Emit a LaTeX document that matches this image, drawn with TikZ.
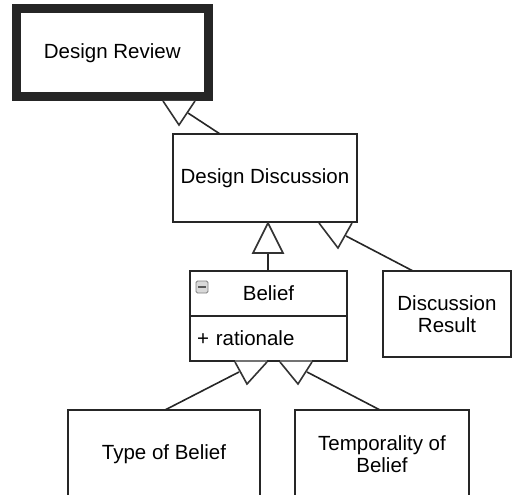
\documentclass[tikz,border=0pt]{standalone}
\usepackage{fontspec}
\setmainfont{Liberation Sans}
\begin{document}
\begin{tikzpicture}[x=1pt,y=-1pt,
  box/.style={draw=black!85,line width=1.6pt,fill=white,inner sep=0pt,font=\fontsize{20.5}{22}\selectfont,align=center,text=black},
  gen/.style={draw=black!80,line width=1.6pt,fill=white,line join=miter},
  conn/.style={draw=black!85,line width=1.6pt},
  basebar/.style={draw=black!55,line width=3pt}]
\useasboundingbox (0,0) rectangle (512,495);
% nodes
\node[box,line width=9pt,minimum width=191.5pt,minimum height=87.5pt] (dr) at (112.25,52.75) {Design Review};
\node[box,minimum width=184pt,minimum height=88pt] (dd) at (265,178) {Design Discussion};
\node[box,minimum width=157pt,minimum height=45pt] (bt) at (268.5,293.5) {Belief};
\node[box,minimum width=157pt,minimum height=45pt,text width=143pt,align=left] (ba) at (268.5,338.5) {+ rationale};
\node[box,minimum width=128pt,minimum height=86pt] (dres) at (447,314) {Discussion\\Result};
\node[box,minimum width=192pt,minimum height=88pt] (tob) at (164,454) {Type of Belief};
\node[box,minimum width=174pt,minimum height=88pt] (tmp) at (382,454) {Temporality of\\Belief};
% collapse icon
\node[draw=black!50,fill=black!15,rounded corners=1.5pt,minimum size=12pt,inner sep=0pt,line width=0.9pt] (icon) at (202,287) {};
\draw[black!65,line width=1.6pt] ([xshift=2.5pt]icon.west) -- ([xshift=-2.5pt]icon.east);
% connector end points
\coordinate (a1) at (188,113); \coordinate (b1) at (220,134);
\coordinate (a2) at (268,253); \coordinate (b2) at (268,271);
\coordinate (a3) at (346,236); \coordinate (b3) at (413,271);
\coordinate (a4) at (239,372); \coordinate (b4) at (165,410);
\coordinate (a5) at (307,372); \coordinate (b5) at (380,410);
% connectors
\draw[conn] (a1) -- (b1);
\draw[conn] (a2) -- (b2);
\draw[conn] (a3) -- (b3);
\draw[conn] (a4) -- (b4);
\draw[conn] (a5) -- (b5);
% triangles
\draw[gen] (163,101) -- (179,125) -- (195,101);
\draw[gen] (268,223) -- (283,253) -- (253,253) -- cycle;
\draw[gen] (319,223) -- (338,248) -- (352,223);
\draw[basebar] (235,361) -- (267,361);
\draw[basebar] (280,361) -- (312,361);
\draw[gen] (235,362) -- (247,384) -- (267,362);
\draw[gen] (280,362) -- (298,384) -- (312,362);
\end{tikzpicture}
\end{document}
